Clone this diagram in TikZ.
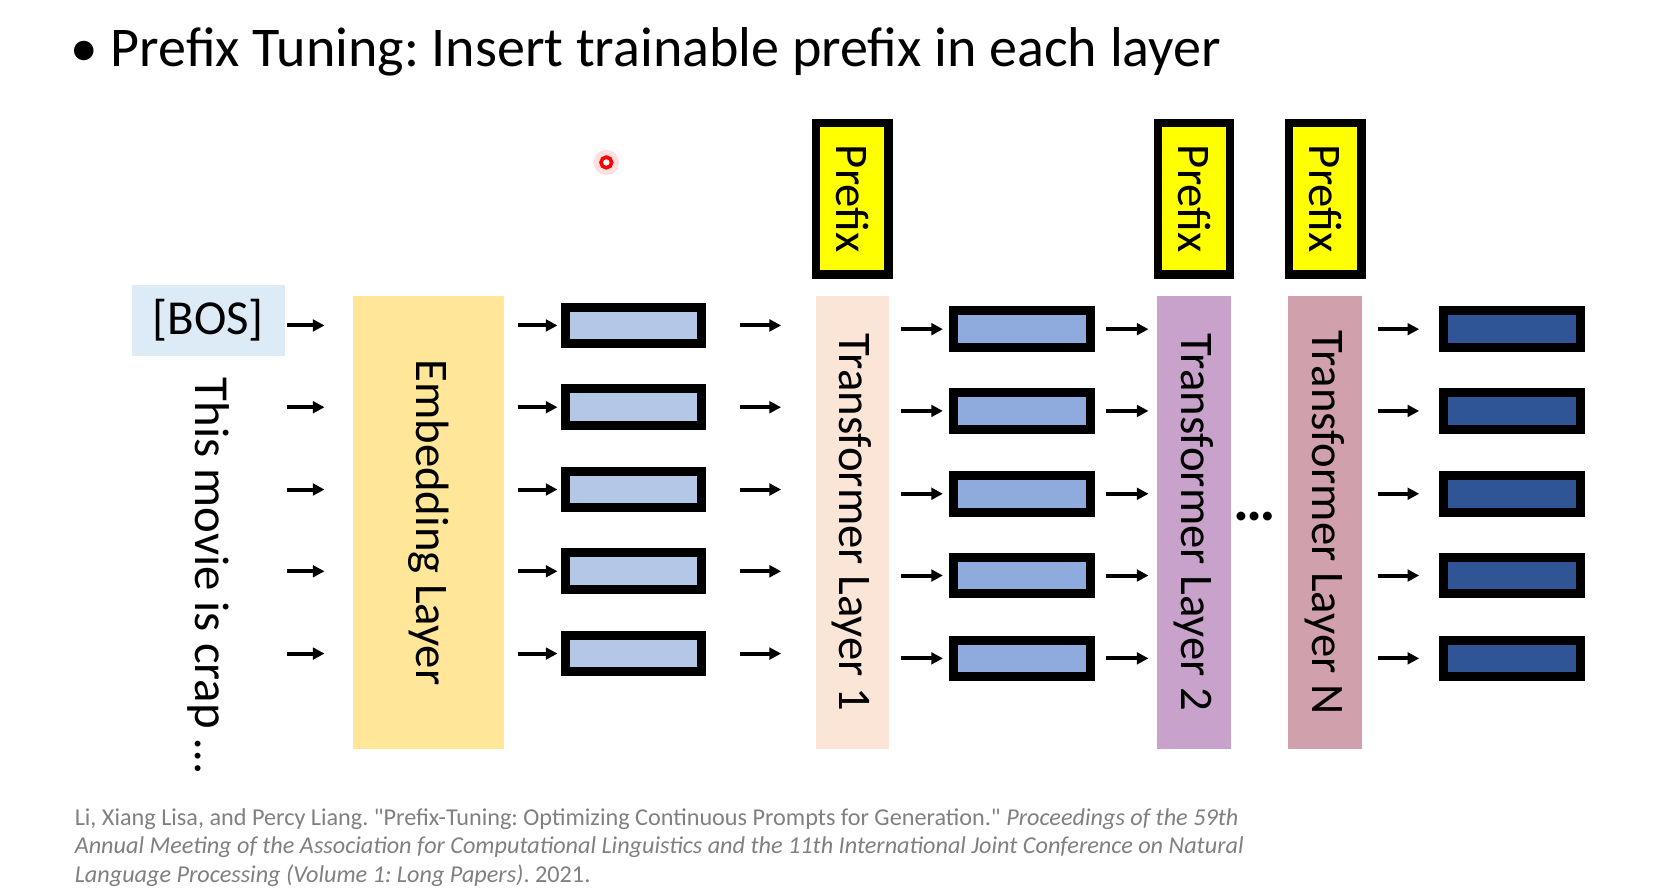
\documentclass[tikz,border=0pt]{standalone}
\usepackage{fontspec}
\setmainfont{Carlito}
\usepackage{graphicx}
\usetikzlibrary{positioning,arrows.meta}
\frenchspacing
\definecolor{bosblue}{HTML}{DDEBF7}
\definecolor{embyellow}{HTML}{FFE699}
\definecolor{layerone}{HTML}{FBE5D6}
\definecolor{layertwo}{HTML}{C8A2CB}
\definecolor{layerN}{HTML}{D0A0AC}
\definecolor{prefixyellow}{HTML}{FFFF00}
\definecolor{veclight}{HTML}{B4C7E7}
\definecolor{vecmid}{HTML}{8FAADC}
\definecolor{vecdark}{HTML}{2F5597}
\definecolor{citegray}{HTML}{808080}
\tikzset{
  layer/.style={minimum height=213pt,inner sep=0pt,font=\fontsize{22}{26}\selectfont},
  prefixbox/.style={draw=black,fill=prefixyellow,line width=4pt,minimum width=34pt,
    minimum height=71.5pt,inner sep=0pt,font=\fontsize{22}{26}\selectfont},
  vecbox/.style={draw=black,line width=4.25pt,minimum width=64.25pt,minimum height=17.25pt,inner sep=0pt},
  arr/.style={-{Triangle[length=5.5pt,width=5.5pt]},line width=1.9pt},
}

\begin{document}
\begin{tikzpicture}[x=0.5pt,y=0.5pt]
\useasboundingbox[fill=white] (0,0) rectangle (1568,842);

% title
\node[anchor=base,font=\fontsize{26}{30}\selectfont] (bullet) at (79,779) {•};
\node[anchor=base west,font=\fontsize{26.4}{30}\selectfont,inner sep=0pt] (title) at (104,779)
  {Prefix Tuning: Insert trainable prefix in each layer};

% laser pointer
\fill[red!12] (571,689) circle (6pt);
\node[circle,draw=red,line width=1.7pt,fill=white,inner sep=0pt,minimum size=5pt] (ptr) at (571,689) {};

% input
\node[fill=bosblue,minimum width=72pt,minimum height=33.5pt,inner sep=0pt,
  font=\fontsize{23}{26}\selectfont] (bos) at (196,540.5) {[BOS]};
\node[below=10pt of bos,inner sep=0pt,font=\fontsize{23}{26}\selectfont] (sent)
  {\rotatebox{-90}{This movie is crap …}};

% layers
\node[layer,fill=embyellow,minimum width=71.5pt] (emb) at (403.5,350) {\rotatebox{-90}{Embedding Layer}};
\node[layer,fill=layerone,minimum width=34.5pt] (t1) at (802.5,350) {\rotatebox{-90}{Transformer Layer 1}};
\node[layer,fill=layertwo,minimum width=34.5pt] (t2) at (1124.5,350) {\rotatebox{-90}{Transformer Layer 2}};
\node[layer,fill=layerN,minimum width=35pt] (tN) at (1248,350) {\rotatebox{-90}{Transformer Layer N}};
\node[anchor=base,font=\fontsize{28}{30}\selectfont\bfseries] (dots) at (1182,351.5) {…};

% prefixes
\node[prefixbox,above=8pt of t1] (p1) {\rotatebox{-90}{Prefix}};
\node[prefixbox,above=8pt of t2] (p2) {\rotatebox{-90}{Prefix}};
\node[prefixbox,above=8pt of tN] (pN) {\rotatebox{-90}{Prefix}};

% hidden vectors
\foreach \i/\y in {1/535.5,2/458.5,3/381,4/304,5/226.5} {
  \node[vecbox,fill=veclight] (e\i) at (596.5,\y) {};
  \draw[arr,shorten <=1pt,shorten >=13pt] (bos.east |- e\i) -- (emb.west |- e\i);
  \draw[arr,shorten <=6pt,shorten >=1.5pt] (emb.east |- e\i) -- (e\i.west);
  \draw[arr,shorten <=16pt,shorten >=16pt] (e\i.east) -- (t1.west |- e\i);
}
\foreach \i/\y in {1/532,2/455,3/377,4/300,5/222} {
  \node[vecbox,fill=vecmid] (h\i) at (962.5,\y) {};
  \node[vecbox,fill=vecdark] (o\i) at (1424,\y) {};
  \draw[arr,shorten <=5.5pt,shorten >=3pt] (t1.east |- h\i) -- (h\i.west);
  \draw[arr,shorten <=5.5pt,shorten >=4pt] (h\i.east) -- (t2.west |- h\i);
  \draw[arr,shorten <=7pt,shorten >=9.5pt] (tN.east |- o\i) -- (o\i.west);
}

% reference
\node[anchor=north west,align=left,inner sep=0pt,text=citegray,
  font=\fontsize{11.4}{13.5}\selectfont] (cite) at (70,81)
  {Li, Xiang Lisa, and Percy Liang. \textquotedbl Prefix-Tuning: Optimizing Continuous Prompts for Generation.\textquotedbl{} \textit{Proceedings of the 59th}\\
   \textit{Annual Meeting of the Association for Computational Linguistics and the 11th International Joint Conference on Natural}\\
   \textit{Language Processing (Volume 1: Long Papers)}. 2021.};
\end{tikzpicture}
\end{document}
